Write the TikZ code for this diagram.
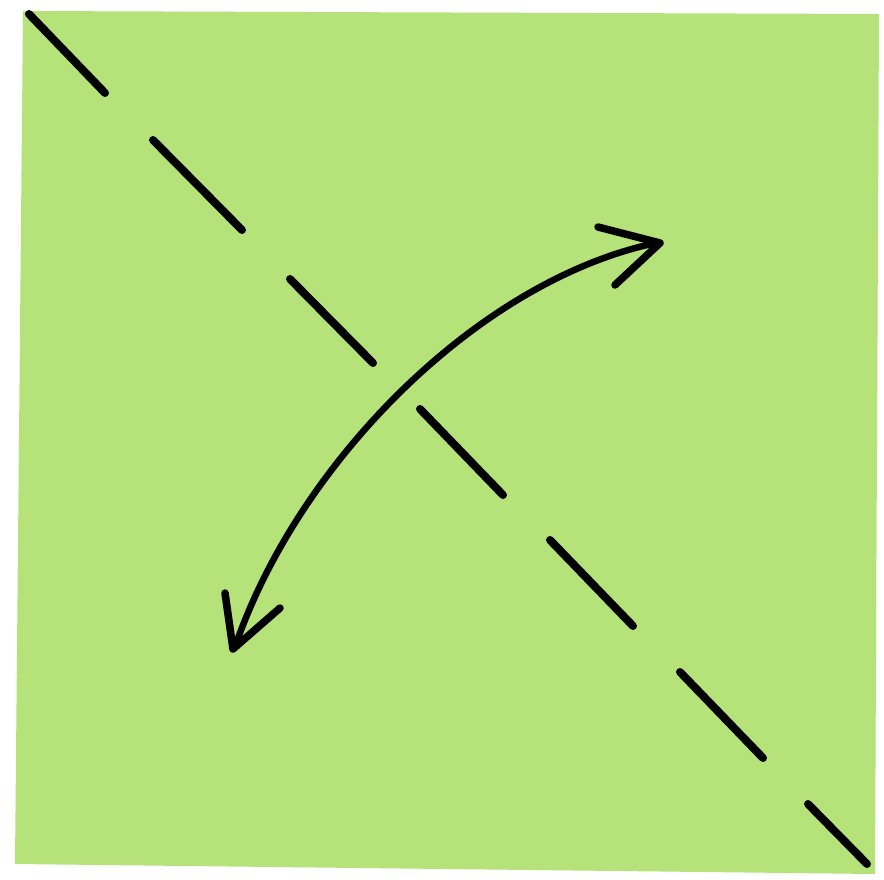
\documentclass[tikz,border=0pt]{standalone}
\begin{document}
\begin{tikzpicture}[x=1pt,y=-1pt,
  paper/.style={fill=papergreen,draw=none},
  fold/.style={line width=8pt,line cap=round,black},
  arc/.style={line width=6.5pt,line cap=round,line join=round,black},
  tip/.style={line width=7.5pt,line cap=round,line join=round,black}]
\definecolor{papergreen}{RGB}{182,226,122}
\useasboundingbox (0,0) rectangle (884,879);
\fill[white] (0,0) rectangle (884,879);
\fill[paper] (23,11) -- (879,14) -- (875,874) -- (15,864) -- cycle;
% dashed diagonal fold line
\draw[fold] (29,14) -- (105,93);
\draw[fold] (153,140) -- (242,230);
\draw[fold] (290,279) -- (373,363);
\draw[fold] (420,409) -- (503,495);
\draw[fold] (550,540) -- (633,626);
\draw[fold] (680,672) -- (763,758);
\draw[fold] (808,804) -- (867,864);
% curved double arrow
\coordinate (s) at (236,644);
\coordinate (e) at (656,243);
\draw[arc] (s) .. controls (300,460) and (480,280) .. (e);
\draw[tip] (598,227) -- (660,243) -- (615,285);
\draw[tip] (225,593) -- (233,649) -- (280,608);
\end{tikzpicture}
\end{document}
